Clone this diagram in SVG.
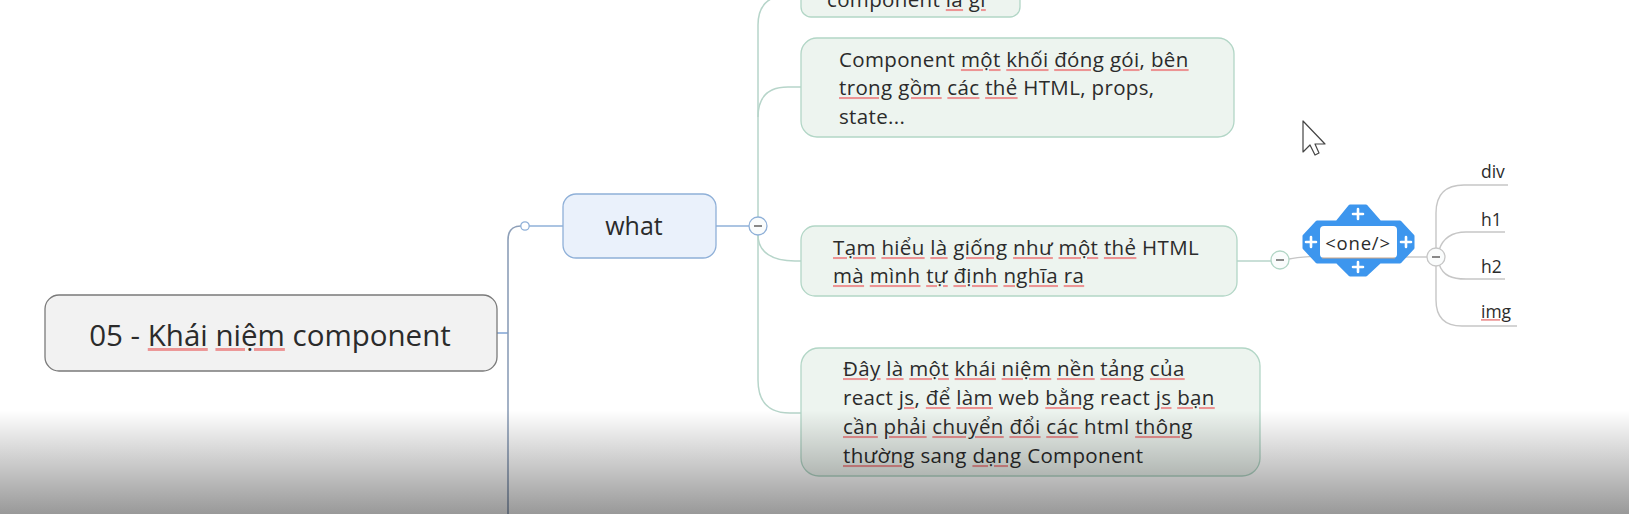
<svg xmlns="http://www.w3.org/2000/svg" width="1629" height="514" viewBox="0 0 1629 514">
<defs>
<linearGradient id="shade" x1="0" y1="410" x2="0" y2="514" gradientUnits="userSpaceOnUse">
<stop offset="0" stop-color="#000" stop-opacity="0"/>
<stop offset="1" stop-color="#000" stop-opacity="0.4"/>
</linearGradient>
<style>
text{font-family:"Open Sans","Noto Sans","DejaVu Sans",sans-serif;fill:#2b2b2b}
.t{font-size:20.5px;letter-spacing:0.35px}
.sp{fill:#ec9494;text-decoration:underline;text-underline-offset:4px;text-decoration-thickness:1px}
.in{fill:#2b2b2b}
.g{fill:#edf4ef;stroke:#b2d6c6;stroke-width:1.3}
.teal{fill:none;stroke:#b7d5ca;stroke-width:1.5}
.gray{fill:none;stroke:#c6c6c6;stroke-width:1.4}
.btn{fill:#fafcfc;stroke-width:1.3}
.minus{stroke:#888;stroke-width:2}
.plus{stroke:#fff;stroke-width:2.6;stroke-linecap:round}
.leaf{font-size:17.5px}
</style>
</defs>
<rect width="1629" height="514" fill="#fff"/>

<g id="connectors">
<line x1="497" y1="333" x2="508" y2="333" stroke="#7fa3d4" stroke-width="1.5"/>
<path d="M508,520 L508,240 Q508,226 521,226" fill="none" stroke="#8d9fb8" stroke-width="1.6"/>
<circle cx="525" cy="226" r="4.2" fill="#fff" stroke="#8fb0d8" stroke-width="1.3"/>
<line x1="529" y1="226" x2="563" y2="226" stroke="#8fb0d8" stroke-width="1.5"/>
<line x1="716" y1="226" x2="749" y2="226" stroke="#8fb0d8" stroke-width="1.5"/>
<path class="teal" d="M758,217 L758,25 Q758,-5 790,-5 L801,-5"/>
<path class="teal" d="M758,117 Q758,87 788,87 L801,87"/>
<path class="teal" d="M758,235 C758,252 772,261 795,261 L801,261"/>
<path class="teal" d="M758,235 L758,380 Q758,413 790,413 L801,413"/>
<line x1="1237" y1="261" x2="1271" y2="261" stroke="#b7d5ca" stroke-width="1.5"/>
<path class="gray" d="M1289,259 C1298,257 1305,257 1318,256"/>
<line x1="1397" y1="257" x2="1427" y2="257" stroke="#c6c6c6" stroke-width="1.4"/>
<path class="gray" d="M1436,248 L1436,213 Q1436,185 1464,185 L1508,185"/>
<path class="gray" d="M1439,250 C1443,238 1452,232 1466,232 L1505,232"/>
<path class="gray" d="M1439,264 C1443,276 1452,279 1466,279 L1505,279"/>
<path class="gray" d="M1436,266 L1436,300 Q1436,326 1462,326 L1517,326"/>
<g id="collapse-what">
<circle class="btn" cx="758" cy="226" r="9" stroke="#8fb0d8"/>
<line class="minus" x1="754" y1="226" x2="762" y2="226"/>
</g>
<g id="collapse-node3">
<circle class="btn" cx="1280" cy="260" r="9" stroke="#b2d6c6"/>
<line class="minus" x1="1276" y1="260" x2="1284" y2="260"/>
</g>
<g id="collapse-one">
<circle class="btn" cx="1436" cy="257" r="9" stroke="#c6c6c6"/>
<line class="minus" x1="1432" y1="257" x2="1440" y2="257"/>
</g>
</g>

<g id="root">
<rect x="45" y="295" width="452" height="76" rx="14" fill="#f2f2f2" stroke="#7a7a7a" stroke-width="1.3"/>
<text x="270" y="346" text-anchor="middle" font-size="29.5">05 - <tspan class="sp"><tspan class="in">Khái</tspan></tspan> <tspan class="sp"><tspan class="in">niệm</tspan></tspan> component</text>
</g>

<g id="what">
<rect x="563" y="194" width="153" height="64" rx="13" fill="#eaf1fb" stroke="#8fb0d8" stroke-width="1.3"/>
<text x="634" y="235" text-anchor="middle" font-size="25">what</text>
</g>

<g id="node-top">
<rect class="g" x="801" y="-30" width="219" height="47" rx="10"/>
<text class="t" x="827" y="7">component <tspan class="sp"><tspan class="in">là</tspan></tspan> <tspan class="sp"><tspan class="in">gì</tspan></tspan></text>
</g>

<g id="node-2">
<rect class="g" x="801" y="38" width="433" height="99" rx="16"/>
<text class="t" x="839" y="67">Component <tspan class="sp"><tspan class="in">một</tspan></tspan> <tspan class="sp"><tspan class="in">khối</tspan></tspan> <tspan class="sp"><tspan class="in">đóng</tspan></tspan> <tspan class="sp"><tspan class="in">gói</tspan></tspan>, <tspan class="sp"><tspan class="in">bên</tspan></tspan></text>
<text class="t" x="839" y="95"><tspan class="sp"><tspan class="in">trong</tspan></tspan> <tspan class="sp"><tspan class="in">gồm</tspan></tspan> <tspan class="sp"><tspan class="in">các</tspan></tspan> <tspan class="sp"><tspan class="in">thẻ</tspan></tspan> HTML, props,</text>
<text class="t" x="839" y="124">state...</text>
</g>

<g id="node-3">
<rect class="g" x="801" y="226" width="436" height="70" rx="14"/>
<text class="t" x="833" y="255"><tspan class="sp"><tspan class="in">Tạm</tspan></tspan> <tspan class="sp"><tspan class="in">hiểu</tspan></tspan> <tspan class="sp"><tspan class="in">là</tspan></tspan> <tspan class="sp"><tspan class="in">giống</tspan></tspan> <tspan class="sp"><tspan class="in">như</tspan></tspan> <tspan class="sp"><tspan class="in">một</tspan></tspan> <tspan class="sp"><tspan class="in">thẻ</tspan></tspan> HTML</text>
<text class="t" x="833" y="283"><tspan class="sp"><tspan class="in">mà</tspan></tspan> <tspan class="sp"><tspan class="in">mình</tspan></tspan> <tspan class="sp"><tspan class="in">tự</tspan></tspan> <tspan class="sp"><tspan class="in">định</tspan></tspan> <tspan class="sp"><tspan class="in">nghĩa</tspan></tspan> <tspan class="sp"><tspan class="in">ra</tspan></tspan></text>
</g>

<g id="node-4">
<rect class="g" x="801" y="348" width="459" height="128" rx="18"/>
<text class="t" x="843" y="376"><tspan class="sp"><tspan class="in">Đây</tspan></tspan> <tspan class="sp"><tspan class="in">là</tspan></tspan> <tspan class="sp"><tspan class="in">một</tspan></tspan> <tspan class="sp"><tspan class="in">khái</tspan></tspan> <tspan class="sp"><tspan class="in">niệm</tspan></tspan> <tspan class="sp"><tspan class="in">nền</tspan></tspan> <tspan class="sp"><tspan class="in">tảng</tspan></tspan> <tspan class="sp"><tspan class="in">của</tspan></tspan></text>
<text class="t" x="843" y="405" letter-spacing="0.15">react <tspan class="sp"><tspan class="in">js</tspan></tspan>, <tspan class="sp"><tspan class="in">để</tspan></tspan> <tspan class="sp"><tspan class="in">làm</tspan></tspan> web <tspan class="sp"><tspan class="in">bằng</tspan></tspan> react <tspan class="sp"><tspan class="in">js</tspan></tspan> <tspan class="sp"><tspan class="in">bạn</tspan></tspan></text>
<text class="t" x="843" y="434"><tspan class="sp"><tspan class="in">cần</tspan></tspan> <tspan class="sp"><tspan class="in">phải</tspan></tspan> <tspan class="sp"><tspan class="in">chuyển</tspan></tspan> <tspan class="sp"><tspan class="in">đổi</tspan></tspan> <tspan class="sp"><tspan class="in">các</tspan></tspan> html <tspan class="sp"><tspan class="in">thông</tspan></tspan></text>
<text class="t" x="843" y="463"><tspan class="sp"><tspan class="in">thường</tspan></tspan> sang <tspan class="sp"><tspan class="in">dạng</tspan></tspan> Component</text>
</g>

<g id="node-one">
<path d="M1317,222 L1337,222 L1350,206 L1366,206 L1380,222 L1400,222 L1413,236 L1413,248 L1400,262 L1380,262 L1366,275 L1350,275 L1337,262 L1317,262 L1304,248 L1304,236 Z" fill="#3d96ee" stroke="#3d96ee" stroke-width="3" stroke-linejoin="round"/>
<rect x="1320" y="226" width="77" height="32" rx="4" fill="#fff"/>
<line x1="1322" y1="258" x2="1395" y2="258" stroke="#c9a488" stroke-width="1"/>
<path class="plus" d="M1358,209 V219 M1353,214 H1363"/>
<path class="plus" d="M1311,237 V247 M1306,242 H1316"/>
<path class="plus" d="M1406,237 V247 M1401,242 H1411"/>
<path class="plus" d="M1358,262 V272 M1353,267 H1363"/>
<text x="1358" y="250" text-anchor="middle" font-size="18.5" letter-spacing="0.8">&lt;one/&gt;</text>
</g>

<g id="leaf-div"><text class="leaf" x="1481" y="178">div</text></g>
<g id="leaf-h1"><text class="leaf" x="1481" y="226">h1</text></g>
<g id="leaf-h2"><text class="leaf" x="1481" y="273">h2</text></g>
<g id="leaf-img"><text class="leaf" x="1481" y="318"><tspan class="sp"><tspan class="in">img</tspan></tspan></text></g>

<path d="M1303,121 L1303,152 L1310,145 L1315,155 L1319,153 L1315,144 L1325,144 Z" fill="#fff" stroke="#444" stroke-width="1.2" stroke-linejoin="round"/>

<rect x="0" y="410" width="1629" height="104" fill="url(#shade)"/>
</svg>
